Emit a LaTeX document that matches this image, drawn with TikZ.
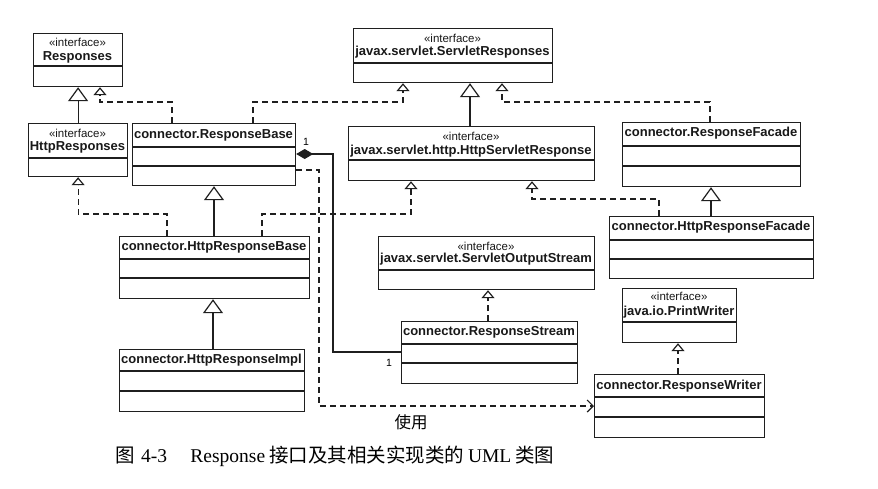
\documentclass[tikz,border=0pt]{standalone}
\usepackage{fontspec}
\setmainfont{Liberation Serif}
\setsansfont{Liberation Sans}
\newfontfamily\cjk{Noto Sans CJK SC}
\usetikzlibrary{arrows.meta}
\begin{document}
\begin{tikzpicture}[x=1pt,y=-1pt,
  ln/.style={line width=1.2pt, draw=black!88},
  box/.style={ln, anchor=north west, inner sep=0pt, fill=white},
  ttl/.style={font=\sffamily\bfseries\fontsize{13}{14}\selectfont, inner sep=0pt, text=black!90},
  ster/.style={font=\sffamily\fontsize{11.5}{12}\selectfont, inner sep=0pt, text=black!90},
  mult/.style={font=\sffamily\fontsize{10.5}{11}\selectfont, inner sep=0pt},
  dsh/.style={dash pattern=on 6pt off 4pt},
  gen/.style={ln, -{Triangle[open,length=14pt,width=20pt,line width=1.2pt]}},
  real/.style={ln, dsh, -{Triangle[open,length=8pt,width=13pt,line width=1.2pt]}},
  dep/.style={ln, dsh, -{Straight Barb[length=6pt,width=12pt,line width=1.2pt]}},
  comp/.style={ln, {Diamond[length=17pt,width=10pt]}-}
]
\useasboundingbox[fill=white] (0,0) rectangle (878,488);

% ---- boxes ----
\node[box, minimum width=89pt, minimum height=53pt] (resp) at (33,33) {};
\draw[ln] (resp.west |- 0,66) -- (resp.east |- 0,66);
\node[ster] (respS) at (77.5,42) {«interface»};
\node[ttl] (respT) at (77.5,57) {Responses};

\node[box, minimum width=99pt, minimum height=53pt] (hresp) at (28,123) {};
\draw[ln] (hresp.west |- 0,158) -- (hresp.east |- 0,158);
\node[ster] (hrespS) at (77.5,133) {«interface»};
\node[ttl] (hrespT) at (77.5,147) {HttpResponses};

\node[box, minimum width=163pt, minimum height=62pt] (rbase) at (132,123) {};
\draw[ln] (rbase.west |- 0,147) -- (rbase.east |- 0,147);
\draw[ln] (rbase.west |- 0,166) -- (rbase.east |- 0,166);
\node[ttl] (rbaseT) at (213.5,135) {connector.ResponseBase};

\node[box, minimum width=199pt, minimum height=54pt] (sresp) at (353,28) {};
\draw[ln] (sresp.west |- 0,63) -- (sresp.east |- 0,63);
\node[ster] (srespS) at (452.5,38) {«interface»};
\node[ttl] (srespT) at (452.5,52) {javax.servlet.ServletResponses};

\node[box, minimum width=246pt, minimum height=54pt] (hsresp) at (348,126) {};
\draw[ln] (hsresp.west |- 0,160) -- (hsresp.east |- 0,160);
\node[ster] (hsrespS) at (471,136) {«interface»};
\node[ttl] (hsrespT) at (471,151) {javax.servlet.http.HttpServletResponse};

\node[box, minimum width=178pt, minimum height=64pt] (rfac) at (622,122) {};
\draw[ln] (rfac.west |- 0,146) -- (rfac.east |- 0,146);
\draw[ln] (rfac.west |- 0,166) -- (rfac.east |- 0,166);
\node[ttl] (rfacT) at (711,133) {connector.ResponseFacade};

\node[box, minimum width=204pt, minimum height=62pt] (hrfac) at (609,216) {};
\draw[ln] (hrfac.west |- 0,240) -- (hrfac.east |- 0,240);
\draw[ln] (hrfac.west |- 0,259) -- (hrfac.east |- 0,259);
\node[ttl] (hrfacT) at (711,227) {connector.HttpResponseFacade};

\node[box, minimum width=190pt, minimum height=62pt] (hrbase) at (119,236) {};
\draw[ln] (hrbase.west |- 0,259) -- (hrbase.east |- 0,259);
\draw[ln] (hrbase.west |- 0,278) -- (hrbase.east |- 0,278);
\node[ttl] (hrbaseT) at (214,247) {connector.HttpResponseBase};

\node[box, minimum width=185pt, minimum height=62pt] (hrimpl) at (119,349) {};
\draw[ln] (hrimpl.west |- 0,371) -- (hrimpl.east |- 0,371);
\draw[ln] (hrimpl.west |- 0,391) -- (hrimpl.east |- 0,391);
\node[ttl] (hrimplT) at (211.5,360) {connector.HttpResponseImpl};

\node[box, minimum width=216pt, minimum height=53pt] (sos) at (378,236) {};
\draw[ln] (sos.west |- 0,270) -- (sos.east |- 0,270);
\node[ster] (sosS) at (486,246) {«interface»};
\node[ttl] (sosT) at (486,259) {javax.servlet.ServletOutputStream};

\node[box, minimum width=176pt, minimum height=62pt] (rstream) at (401,321) {};
\draw[ln] (rstream.west |- 0,344) -- (rstream.east |- 0,344);
\draw[ln] (rstream.west |- 0,363) -- (rstream.east |- 0,363);
\node[ttl] (rstreamT) at (489,332) {connector.ResponseStream};

\node[box, minimum width=114pt, minimum height=54pt] (pw) at (622,288) {};
\draw[ln] (pw.west |- 0,322) -- (pw.east |- 0,322);
\node[ster] (pwS) at (679,296) {«interface»};
\node[ttl] (pwT) at (679,312) {java.io.PrintWriter};

\node[box, minimum width=170pt, minimum height=63pt] (rwriter) at (594,374) {};
\draw[ln] (rwriter.west |- 0,397) -- (rwriter.east |- 0,397);
\draw[ln] (rwriter.west |- 0,417) -- (rwriter.east |- 0,417);
\node[ttl] (rwriterT) at (679,386) {connector.ResponseWriter};

% ---- connectors ----
\draw[gen] (hresp.north) -- (resp.south);
\draw[real] (rbase.north -| 172,0) |- (100,102) -- (resp.south -| 100,0);
\draw[real] (rbase.north -| 253,0) |- (403,102) -- (sresp.south -| 403,0);
\draw[gen] (hsresp.north -| 470,0) -- (sresp.south -| 470,0);
\draw[real] (rfac.north -| 710,0) |- (502,102) -- (sresp.south -| 502,0);
\draw[gen] (hrfac.north -| 711,0) -- (rfac.south -| 711,0);
\draw[real] (hrfac.north -| 659,0) |- (532,199) -- (hsresp.south -| 532,0);
\draw[real] (hrbase.north -| 262,0) |- (411,214) -- (hsresp.south -| 411,0);
\draw[real] (hrbase.north -| 167,0) |- (hresp.south |- 0,214) -- (hresp.south);
\draw[gen] (hrbase.north -| 214,0) -- (rbase.south -| 214,0);
\draw[gen] (hrimpl.north -| 213,0) -- (hrbase.south -| 213,0);
\draw[real] (rstream.north -| 488,0) -- (sos.south -| 488,0);
\draw[real] (rwriter.north -| 678,0) -- (pw.south -| 678,0);
\draw[comp] (rbase.east |- 0,154) -| (333,352) -- (rstream.west |- 0,352);
\node[mult] (m1) at (306,142) {1};
\node[mult] (m2) at (389,363) {1};
\draw[dep] (rbase.east |- 0,170) -| (319,406) -- (rwriter.west |- 0,406);
\node[font=\cjk\fontsize{16.5}{17}\selectfont, inner sep=0pt] (use) at (411,422) {使用};

% ---- caption ----
\node[font=\fontsize{19.5}{21}\selectfont, inner sep=0pt] (cap) at (335,456)
  {{\cjk 图}\hspace{0.3em}4-3\hspace{1.2em}Response\hspace{0.2em}{\cjk 接口及其相关实现类的}\hspace{0.2em}UML\hspace{0.2em}{\cjk 类图}};
\end{tikzpicture}
\end{document}
